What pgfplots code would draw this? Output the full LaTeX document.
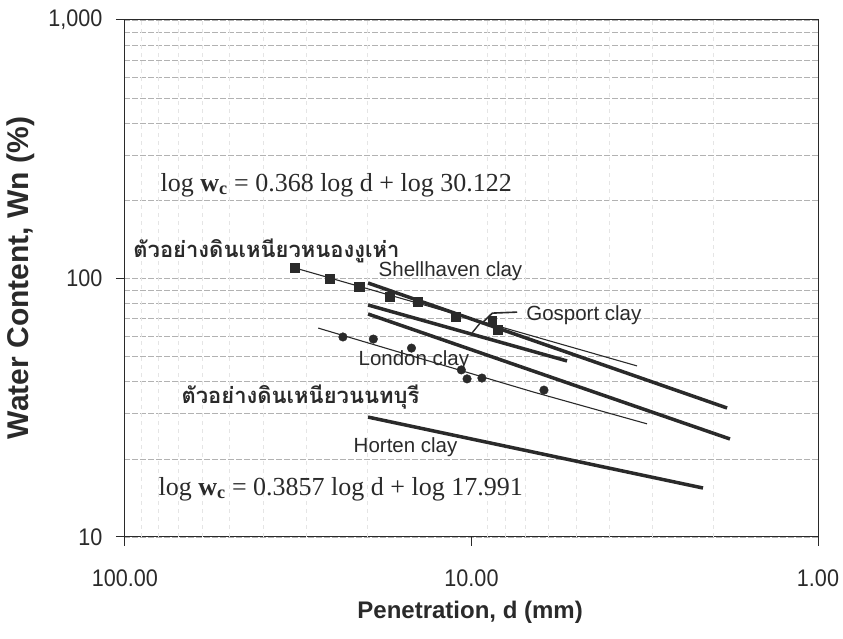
\documentclass[border=0pt]{standalone}
\usepackage{fontspec}
\setmainfont{Liberation Sans}
\newfontfamily\ticksans[FakeStretch=0.9]{Liberation Sans}
\newfontfamily\thaifont[Script=Thai]{Loma}
\newfontfamily\seriffont{Liberation Serif}
\usepackage{pgfplots}
\pgfplotsset{compat=1.18}
\definecolor{ink}{HTML}{2A2A2A}

\pgfplotstableread{
d w
32.3 109.8
25.6 99.5
21.1 92.7
17.2 84.8
14.3 81.1
11.1 71.0
8.39 63.2
}\nongnguhao

\pgfplotstableread{
d w
23.5 59.4
19.2 58.3
14.9 53.8
10.7 44.3
10.3 40.9
9.33 41.2
6.18 37.0
}\nonthaburi

\begin{document}
\begin{tikzpicture}
\path[use as bounding box] (-125pt,-102pt) rectangle (718pt,537pt);
\begin{axis}[
  at={(0pt,0pt)}, anchor=south west,
  width=693pt, height=517pt, scale only axis,
  xmode=log, ymode=log, x dir=reverse,
  xmin=1, xmax=100, ymin=10, ymax=1000,
  xtick={1,10,100}, xticklabels={1.00,10.00,100.00},
  ytick={10,100,1000}, yticklabels={10,100,{1,000}},
  tick pos=left, tick align=outside,
  major tick length=9pt, minor tick length=0pt,
  ymajorgrids, yminorgrids,
  major grid style={gray!60, dash pattern=on 6pt off 2pt, line width=0.5pt},
  minor grid style={gray!60, dash pattern=on 6pt off 2pt, line width=0.5pt},
  axis line style={ink, line width=1pt},
  tick style={ink, line width=1pt},
  ticklabel style={font=\ticksans\fontsize{24}{24}\selectfont, text=ink},
  yticklabel style={xshift=-10pt},
  xticklabel style={yshift=-20pt},
  clip=false,
]
% faint vertical grid
\pgfplotsinvokeforeach{2,3,4,5,6,7,8,9,20,30,40,50,60,70,80,90}{
  \draw[gray!20, dash pattern=on 4pt off 4pt, line width=0.5pt] (axis cs:#1,10) -- (axis cs:#1,1000);
}
% literature clay lines
\addplot[ink, line width=3.5pt] coordinates {(19.89,96.07) (1.83,31.55)};
\addplot[ink, line width=3.5pt] coordinates {(19.89,78.98) (5.30,47.97)};
\addplot[ink, line width=3.5pt] coordinates {(19.89,72.9) (1.795,23.94)};
\addplot[ink, line width=3.5pt] coordinates {(19.89,29.1) (2.147,15.47)};
% fitted thin lines
\addplot[ink, line width=1.1pt] coordinates {(32.3,109.8) (3.33,45.9)};
\addplot[ink, line width=1.1pt] coordinates {(27.7,64.3) (6.64,36.4) (3.115,27.4)};
% data
\addplot[only marks, mark=square*, mark size=4.6pt, ink] table[x=d,y=w] {\nongnguhao};
\addplot[only marks, mark=square*, mark size=4pt, ink] coordinates {(8.73,69.1)};
\addplot[only marks, mark=*, mark size=4.3pt, ink] table[x=d,y=w] {\nonthaburi};
% Gosport leader
\draw[ink, line width=1.6pt] (rel axis cs:0.517,0.416) -- (rel axis cs:0.530,0.433) -- (rel axis cs:0.566,0.435);
\draw[ink, line width=1.4pt] (rel axis cs:0.501,0.395) -- (rel axis cs:0.512,0.413);
% text
\node[anchor=west, text=ink, font=\seriffont\fontsize{26}{26}\selectfont] at (rel axis cs:0.0462,0.681) {log \textbf{w\textsubscript{c}} = 0.368 log d + log 30.122};
\node[anchor=west, text=ink, font=\seriffont\fontsize{26}{26}\selectfont] at (rel axis cs:0.0433,0.093) {log \textbf{w\textsubscript{c}} = 0.3857 log d + log 17.991};
\node[anchor=west, text=ink, font=\thaifont\bfseries\fontsize{22}{22}\selectfont] at (rel axis cs:0.007,0.553) {ตัวอย่างดินเหนียวหนองงูเห่า};
\node[anchor=west, text=ink, font=\thaifont\bfseries\fontsize{22}{22}\selectfont] at (rel axis cs:0.0765,0.271) {ตัวอย่างดินเหนียวนนทบุรี};
\node[anchor=west, text=ink, font=\fontsize{20.5}{20.5}\selectfont] at (rel axis cs:0.361,0.5145) {Shellhaven clay};
\node[anchor=west, text=ink, font=\fontsize{20.5}{20.5}\selectfont] at (rel axis cs:0.574,0.429) {Gosport clay};
\node[anchor=west, text=ink, font=\fontsize{20.5}{20.5}\selectfont] at (rel axis cs:0.332,0.342) {London clay};
\node[anchor=west, text=ink, font=\fontsize{20.5}{20.5}\selectfont] at (rel axis cs:0.325,0.174) {Horten clay};
% axis labels
\node[rotate=90, text=ink, font=\bfseries\fontsize{30}{30}\selectfont] at (rel axis cs:-0.150,0.501) {Water Content, Wn (\%)};
\node[text=ink, font=\bfseries\fontsize{24}{24}\selectfont] at (rel axis cs:0.498,-0.145) {Penetration, d (mm)};
\end{axis}
\end{tikzpicture}
\end{document}
